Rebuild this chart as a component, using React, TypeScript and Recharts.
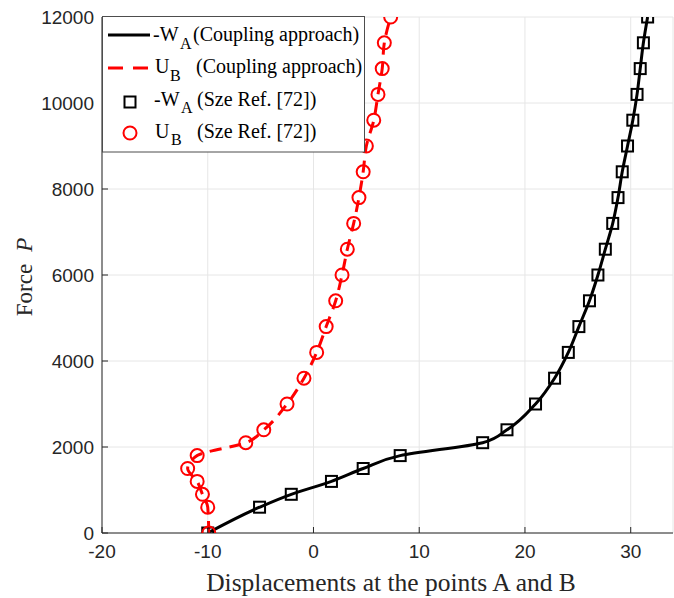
import React from 'react';
import { ComposedChart, Line, XAxis, YAxis, CartesianGrid } from 'recharts';

// load levels shared by both series
const forceLevels = [
  0, 600, 900, 1200, 1500, 1800, 2100, 2400, 3000, 3600, 4200, 4800, 5400, 6000, 6600, 7200,
  7800, 8400, 9000, 9600, 10200, 10800, 11400, 12000,
];
// -W_A displacement
const minusWA = [
  -10, -5.1, -2.1, 1.7, 4.7, 8.2, 16.0, 18.3, 21.0, 22.8, 24.1, 25.1, 26.1, 26.9, 27.6, 28.3,
  28.8, 29.2, 29.7, 30.2, 30.6, 30.9, 31.2, 31.6,
];
// U_B displacement
const uB = [
  -9.9, -10.0, -10.5, -11.0, -11.9, -11.0, -6.4, -4.7, -2.5, -0.9, 0.3, 1.2, 2.1, 2.7, 3.2, 3.8,
  4.3, 4.7, 5.0, 5.7, 6.1, 6.5, 6.7, 7.3,
];

const xTicks = [-20, -10, 0, 10, 20, 30];
const yTicks = [0, 2000, 4000, 6000, 8000, 10000, 12000];

const wData = forceLevels.map((p, i) => ({ p, v: minusWA[i] }));
const uData = forceLevels.map((p, i) => ({ p, v: uB[i] }));

const AXIS = '#262626';
const SANS = '"Liberation Sans", Arial, Helvetica, sans-serif';
const SERIF = '"Liberation Serif", "Times New Roman", Times, serif';

const SquareDot = (props: any) => {
  const { cx, cy } = props;
  if (cx == null || cy == null) return null;
  return <rect x={cx - 5.5} y={cy - 5.5} width={11} height={11} fill="none" stroke="#000" strokeWidth={2} />;
};

const CircleDot = (props: any) => {
  const { cx, cy } = props;
  if (cx == null || cy == null) return null;
  return <circle cx={cx} cy={cy} r={6.5} fill="none" stroke="#ff0000" strokeWidth={2} />;
};

const XLabel = () => (
  <text x={391} y={591} textAnchor="middle" fontFamily={SERIF} fontSize={25.5} fill={AXIS}>
    Displacements at the points A and B
  </text>
);

const YLabel = () => (
  <text x={32} y={277} transform="rotate(-90, 32, 277)" textAnchor="middle" fontFamily={SERIF} fontSize={23} fill={AXIS}>
    Force
    <tspan dx={12} fontStyle="italic">P</tspan>
  </text>
);

function LegendBox() {
  const t = { fontFamily: SERIF, fontSize: 20, fill: '#000' };
  const s = { fontFamily: SERIF, fontSize: 16, fill: '#000' };
  return (
    <svg width={674} height={598} style={{ position: 'absolute', left: 0, top: 0, pointerEvents: 'none' }}>
      <rect x={102.5} y={16.5} width={262} height={135.5} fill="#fff" stroke="#4d4d4d" strokeWidth={1} />
      <line x1={108} y1={35} x2={150} y2={35} stroke="#000" strokeWidth={3} />
      <text x={153} y={41} {...t}>-W</text>
      <text x={180} y={49} {...s}>A</text>
      <text x={193} y={41} {...t}>(Coupling approach)</text>

      <line x1={108} y1={68} x2={150} y2={68} stroke="#ff0000" strokeWidth={3} strokeDasharray="15 10" />
      <text x={155} y={73} {...t}>U</text>
      <text x={170} y={81} {...s}>B</text>
      <text x={196} y={73} {...t}>(Coupling approach)</text>

      <rect x={124.5} y={96.5} width={11} height={11} fill="none" stroke="#000" strokeWidth={2} />
      <text x={154} y={106} {...t}>-W</text>
      <text x={181} y={113} {...s}>A</text>
      <text x={197} y={106} {...t}>(Sze Ref. [72])</text>

      <circle cx={130} cy={133} r={6.5} fill="none" stroke="#ff0000" strokeWidth={2} />
      <text x={155} y={138} {...t}>U</text>
      <text x={171} y={145} {...s}>B</text>
      <text x={197} y={138} {...t}>(Sze Ref. [72])</text>
    </svg>
  );
}

export default function App() {
  const tick = { fill: AXIS, fontSize: 19, fontFamily: SANS };
  return (
    <div style={{ position: 'absolute', left: 0, top: 0, width: 674, height: 598, background: '#fff' }}>
      <ComposedChart
        layout="vertical"
        width={674}
        height={598}
        margin={{ top: 17, right: 1, bottom: 0, left: 0 }}
      >
        <CartesianGrid stroke="#e6e6e6" strokeWidth={1} />
        <XAxis
          type="number"
          domain={[-20, 34]}
          ticks={xTicks}
          allowDataOverflow
          height={65}
          tickSize={-6}
          tickMargin={18}
          stroke={AXIS}
          tick={tick}
          label={<XLabel />}
        />
        <XAxis
          xAxisId="top"
          orientation="top"
          type="number"
          domain={[-20, 34]}
          ticks={xTicks}
          allowDataOverflow
          height={0}
          tickSize={-6}
          tick={false}
          stroke={AXIS}
        />
        <YAxis
          type="number"
          dataKey="p"
          domain={[0, 12000]}
          ticks={yTicks}
          allowDataOverflow
          reversed
          width={102}
          tickSize={-6}
          tickMargin={14}
          stroke={AXIS}
          tick={tick}
          label={<YLabel />}
        />
        <YAxis
          yAxisId="right"
          orientation="right"
          type="number"
          domain={[0, 12000]}
          ticks={yTicks}
          allowDataOverflow
          reversed
          width={0}
          tickSize={-6}
          tick={false}
          stroke={AXIS}
        />
        <Line data={wData} dataKey="v" type="monotone" stroke="#000" strokeWidth={3} dot={false} activeDot={false} isAnimationActive={false} />
        <Line data={uData} dataKey="v" type="monotone" stroke="#ff0000" strokeWidth={3} strokeDasharray="12 8" dot={false} activeDot={false} isAnimationActive={false} />
        <Line data={wData} dataKey="v" stroke="none" dot={<SquareDot />} activeDot={false} isAnimationActive={false} />
        <Line data={uData} dataKey="v" stroke="none" dot={<CircleDot />} activeDot={false} isAnimationActive={false} />
      </ComposedChart>
      <LegendBox />
    </div>
  );
}
